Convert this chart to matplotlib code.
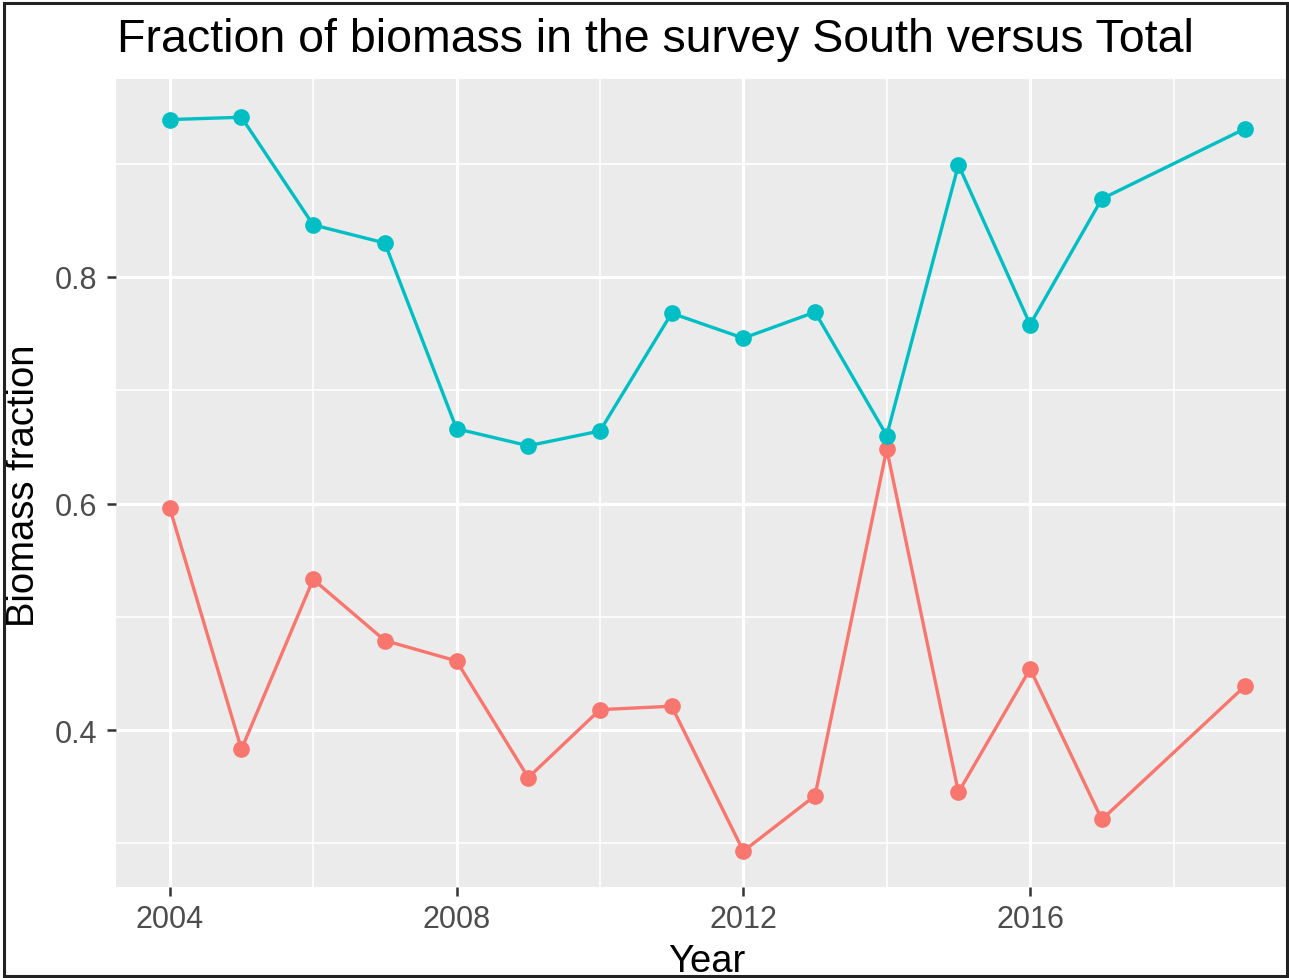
import matplotlib
matplotlib.use("Agg")
import matplotlib.pyplot as plt
from matplotlib.patches import Rectangle

plt.rcParams['font.family'] = ['Liberation Sans', 'DejaVu Sans']

# Data
years = [2004, 2005, 2006, 2007, 2008, 2009, 2010, 2011, 2012, 2013, 2014, 2015, 2016, 2017, 2019]
total = [0.939, 0.941, 0.846, 0.830, 0.666, 0.651, 0.664, 0.768, 0.746, 0.769, 0.660, 0.899, 0.758, 0.869, 0.931]
south = [0.596, 0.383, 0.533, 0.479, 0.461, 0.358, 0.418, 0.421, 0.293, 0.342, 0.648, 0.345, 0.454, 0.321, 0.439]

x_major = [2004, 2008, 2012, 2016]
x_minor = [2006, 2010, 2014, 2018]
y_major = [0.4, 0.6, 0.8]
y_minor = [0.3, 0.5, 0.7, 0.9]

RED = '#F8766D'
TEAL = '#00BFC4'

W, H = 1289, 979
fig = plt.figure(figsize=(W / 100, H / 100), dpi=100)
ax = fig.add_axes([116 / W, (H - 888) / H, (1299 - 116) / W, (888 - 80) / H])
ax.set_facecolor('#EBEBEB')
for s in ax.spines.values():
    s.set_visible(False)

# gridlines
for v in y_minor:
    ax.axhline(v, color='white', lw=1.2, zorder=0)
for v in x_minor:
    ax.axvline(v, color='white', lw=1.2, zorder=0)
for v in y_major:
    ax.axhline(v, color='white', lw=2.3, zorder=0)
for v in x_major:
    ax.axvline(v, color='white', lw=2.3, zorder=0)

# lines then points
ax.plot(years, south, color=RED, lw=2.4, zorder=2)
ax.plot(years, total, color=TEAL, lw=2.4, zorder=2)
ax.plot(years, south, 'o', color=RED, ms=11, zorder=3)
ax.plot(years, total, 'o', color=TEAL, ms=11, zorder=3)

ax.set_xlim(2003.25, 2019.75)
ax.set_ylim(0.2614, 0.9748)
ax.set_xticks(x_major)
ax.set_xticklabels([str(v) for v in x_major])
ax.set_yticks(y_major)
ax.set_yticklabels(['0.4', '0.6', '0.8'])
ax.tick_params(axis='both', colors='#333333', labelcolor='#4D4D4D', labelsize=22,
               length=6.5, width=1.8, pad=6)
ax.tick_params(axis='y', pad=7)

fig.text(117 / W, (H - 52) / H, 'Fraction of biomass in the survey South versus Total',
         fontsize=33.5, ha='left', va='baseline', color='black')
fig.text(707 / W, 7 / H, 'Year', fontsize=27.5, ha='center', va='baseline', color='black')
fig.text(24 / W, (H - 486) / H, 'Biomass fraction', fontsize=27.5, rotation=90,
         ha='center', va='center', color='black')

# outer border
fig.patches.append(Rectangle((4 / W, 2 / H), (1287 - 4) / W, (977 - 4) / H,
                             transform=fig.transFigure, fill=False,
                             edgecolor='#222222', lw=2.2, zorder=10))

fig.savefig('out.png', dpi=100)
